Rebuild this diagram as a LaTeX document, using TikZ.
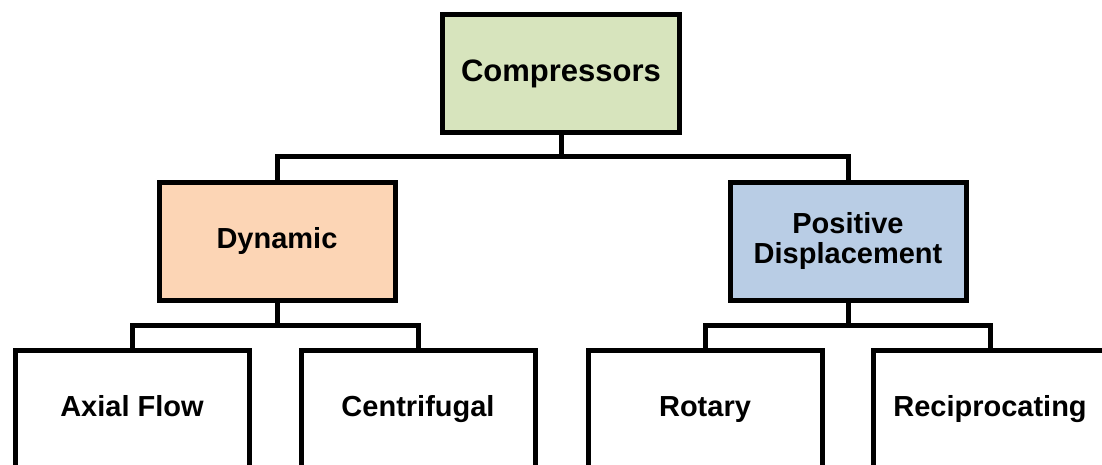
\documentclass[tikz,border=0pt]{standalone}
\usepackage{fontspec}
\setmainfont{Liberation Sans}
\definecolor{cgreen}{HTML}{D7E4BD}
\definecolor{cpeach}{HTML}{FCD5B5}
\definecolor{cblue}{HTML}{B9CDE5}
\tikzset{
  box/.style={draw=black, line width=5pt, minimum width=236pt, minimum height=117pt, inner sep=0pt, align=center, font=\fontsize{29}{30}\selectfont\bfseries},
  leaf/.style={box, fill=white, minimum width=234pt, text height=21pt, text depth=6pt},
  conn/.style={draw=black, line width=5pt, line join=miter}
}
\begin{document}
\begin{tikzpicture}[x=1pt,y=-1pt]
\useasboundingbox (0,0) rectangle (1102,465);
\clip (0,0) rectangle (1102,465);
\node[box, fill=cgreen, minimum width=237pt, minimum height=118pt, font=\fontsize{31}{32}\selectfont\bfseries] (comp) at (561,73.5) {Compressors};
\node[box, fill=cpeach] (dyn) at (277,241.5) {Dynamic};
\node[box, fill=cblue] (pd) at (848,241.5) {Positive\\Displacement};
\node[leaf] (axial) at (132,408.5) {Axial Flow};
\node[leaf] (cent) at (418,408.5) {Centrifugal};
\node[leaf] (rot) at (705,408.5) {Rotary};
\node[leaf] (recip) at (990,408.5) {Reciprocating};
\coordinate (h1) at (0,157);
\coordinate (h2) at (0,325);
\draw[conn] (comp.south) -- (comp.south |- h1);
\draw[conn] (dyn.north) -- (dyn.north |- h1) -- (pd.north |- h1) -- (pd.north);
\draw[conn] (dyn.south) -- (dyn.south |- h2);
\draw[conn] (axial.north) -- (axial.north |- h2) -- (cent.north |- h2) -- (cent.north);
\draw[conn] (pd.south) -- (pd.south |- h2);
\draw[conn] (rot.north) -- (rot.north |- h2) -- (recip.north |- h2) -- (recip.north);
\end{tikzpicture}
\end{document}
